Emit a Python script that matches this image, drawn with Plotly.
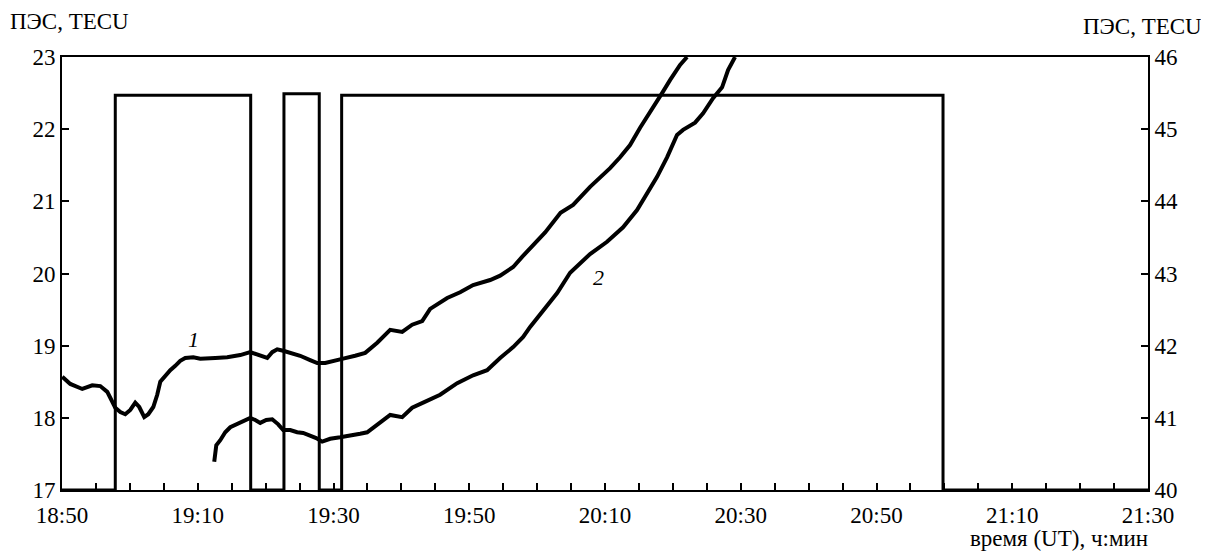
import pandas as pd
import plotly.graph_objects as go

# time in minutes after 18:50 UT
t1 = [0.04, 1.22, 2.99, 4.46, 5.64, 6.67, 7.85, 8.59, 9.32, 10.06, 10.79, 11.38, 12.12, 12.71,
      13.45, 14.03, 14.48, 15.21, 15.95, 16.69, 17.42, 18.16, 19.34, 20.37, 21.40, 22.58, 24.34,
      26.26, 27.73, 28.91, 30.24, 30.97, 31.71, 32.59, 33.62, 35.09, 36.56, 37.60, 38.78, 40.25,
      41.43, 43.19, 44.67, 46.44, 48.35, 50.12, 51.59, 53.07, 54.24, 56.75, 58.66, 60.57, 63.08,
      64.55, 66.47, 67.79, 69.41, 71.18, 73.45, 75.30, 77.80, 80.75, 82.22, 83.69, 85.17, 87.08,
      88.41, 89.58, 91.06, 92.09]
tec1 = [18.57, 18.47, 18.40, 18.45, 18.44, 18.36, 18.14, 18.08, 18.05, 18.11, 18.21, 18.15, 18.01,
        18.05, 18.15, 18.32, 18.50, 18.59, 18.66, 18.72, 18.79, 18.83, 18.84, 18.82, 18.82, 18.83,
        18.84, 18.87, 18.91, 18.87, 18.83, 18.91, 18.95, 18.93, 18.90, 18.86, 18.80, 18.76, 18.76,
        18.80, 18.82, 18.86, 18.90, 19.04, 19.22, 19.19, 19.29, 19.34, 19.51, 19.66, 19.74, 19.84,
        19.91, 19.97, 20.09, 20.23, 20.39, 20.57, 20.84, 20.95, 21.20, 21.46, 21.61, 21.78, 22.02,
        22.29, 22.50, 22.68, 22.89, 23.00]

t2 = [22.43, 22.73, 23.32, 24.05, 24.79, 26.26, 27.00, 27.73, 28.47, 29.20, 30.09, 30.97, 31.86,
      32.59, 33.62, 34.65, 35.53, 36.56, 37.45, 38.33, 39.51, 40.98, 42.46, 43.93, 44.96, 45.85,
      46.88, 48.35, 50.12, 51.59, 53.21, 55.71, 58.22, 60.57, 62.63, 64.55, 66.47, 67.94, 68.97,
      70.89, 72.95, 74.86, 76.78, 77.80, 80.30, 82.66, 84.72, 86.20, 87.67, 89.14, 90.61, 91.50,
      93.27, 94.45, 95.92, 97.25, 98.13, 99.16]
tec2 = [40.39, 40.62, 40.69, 40.80, 40.87, 40.94, 40.97, 41.00, 40.97, 40.93, 40.97, 40.98, 40.91,
        40.83, 40.83, 40.80, 40.79, 40.76, 40.72, 40.67, 40.71, 40.73, 40.75, 40.78, 40.80, 40.86,
        40.94, 41.04, 41.01, 41.14, 41.21, 41.32, 41.48, 41.59, 41.66, 41.83, 41.98, 42.12, 42.26,
        42.49, 42.73, 43.01, 43.19, 43.27, 43.44, 43.64, 43.88, 44.12, 44.34, 44.61, 44.92, 44.99,
        45.09, 45.22, 45.43, 45.58, 45.82, 46.00]

# heating on/off periods (step curve on left axis)
t_steps = [0, 7.85, 27.8, 32.7, 37.9, 41.2, 129.8, 160]
level_steps = [17, 22.47, 17, 22.49, 17, 22.47, 17, 17]

tick_minutes = [0, 20, 40, 60, 80, 100, 120, 140, 160]
tick_labels = ["18:50", "19:10", "19:30", "19:50", "20:10", "20:30", "20:50", "21:10", "21:30"]

FONT = "Liberation Serif, DejaVu Serif, Noto Serif, Times New Roman, serif"
BLACK = "#000000"

fig = go.Figure()
fig.add_trace(go.Scatter(x=t_steps, y=level_steps, mode="lines", line_shape="hv",
                         line=dict(color=BLACK, width=3), showlegend=False, hoverinfo="skip"))
fig.add_trace(go.Scatter(x=t1, y=tec1, mode="lines", line=dict(color=BLACK, width=4),
                         showlegend=False))
fig.add_trace(go.Scatter(x=t2, y=tec2, mode="lines", line=dict(color=BLACK, width=4),
                         showlegend=False, yaxis="y2"))

# the page body has an 8px margin, so the figure is shrunk by that much
W, H = 1201, 543
ML, MR, MT, MB = 54, 61, 49, 61
PW, PH = W - ML - MR, H - MT - MB

fig.update_layout(
    width=W, height=H,
    margin=dict(l=ML, r=MR, t=MT, b=MB, autoexpand=False),
    paper_bgcolor="white", plot_bgcolor="white",
    font=dict(family=FONT, size=23, color=BLACK),
    xaxis=dict(range=[0, 160], tickvals=tick_minutes, ticktext=tick_labels,
               ticks="inside", ticklen=7, tickwidth=1.5, tickcolor=BLACK,
               minor=dict(dtick=5, tick0=0, ticks="inside", ticklen=7, tickwidth=1.5, tickcolor=BLACK),
               showline=True, linecolor=BLACK, linewidth=2, mirror=True, ticklabelstandoff=3,
               showgrid=False, zeroline=False, automargin=False),
    yaxis=dict(range=[17, 23], dtick=1, tick0=17, ticks="inside", ticklen=7, tickwidth=1.5,
               tickcolor=BLACK, showline=True, linecolor=BLACK, linewidth=2,
               showgrid=False, zeroline=False, automargin=False),
    yaxis2=dict(range=[40, 46], dtick=1, tick0=40, overlaying="y", side="right",
                ticks="inside", ticklen=7, tickwidth=1.5, tickcolor=BLACK,
                showline=True, linecolor=BLACK, linewidth=2, showgrid=False, zeroline=False,
                automargin=False),
)

fig.add_annotation(text="ПЭС, TECU", xref="paper", yref="paper", x=-ML / PW, y=1 + 35 / PH,
                   xanchor="left", yanchor="middle", showarrow=False, font=dict(size=23))
fig.add_annotation(text="ПЭС, TECU", xref="paper", yref="paper", x=1 + 56 / PW, y=1 + 31 / PH,
                   xanchor="right", yanchor="middle", showarrow=False, font=dict(size=23))
fig.add_annotation(text="время (UT), ч:мин", xref="paper", yref="paper", x=1 + 2 / PW, y=-48 / PH,
                   xanchor="right", yanchor="middle", showarrow=False, font=dict(size=23))
fig.add_annotation(text="<i>1</i>", x=19.3, y=19.08, xref="x", yref="y", showarrow=False,
                   font=dict(size=22))
fig.add_annotation(text="<i>2</i>", x=79.0, y=19.95, xref="x", yref="y", showarrow=False,
                   font=dict(size=22))

fig.write_html("out.html")
